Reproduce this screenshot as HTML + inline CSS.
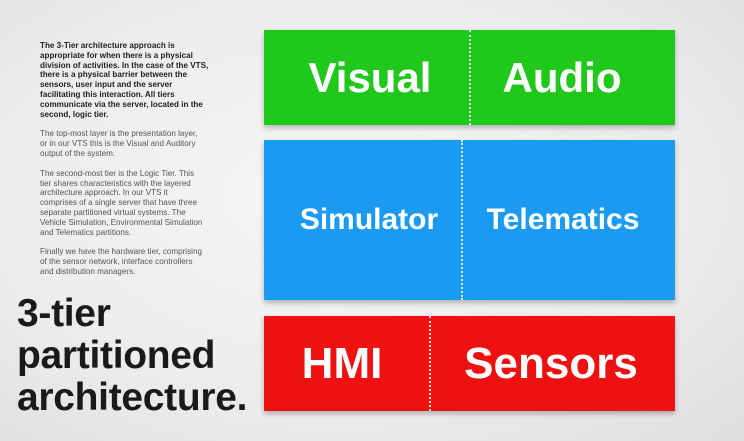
<!DOCTYPE html>
<html><head><style>
body{margin:0;width:744px;height:441px;overflow:hidden;background:radial-gradient(ellipse at 45% 45%,#f6f6f6 0%,#ececec 60%,#dedede 100%);font-family:"Liberation Sans",sans-serif;position:relative}
.t{position:absolute;left:40px;top:41px;font-size:8.1px;line-height:9.8px;color:#555;white-space:nowrap}
.t p{margin:0 0 10px}
.t p:first-child{color:#222;font-weight:bold}
.big{position:absolute;left:17px;top:293px;font-size:39px;font-weight:bold;line-height:42px;color:#1a1a1a;letter-spacing:-0.3px}
.box{position:absolute;left:264px;width:411px;color:#fff;font-weight:bold;box-shadow:0 3px 5px rgba(0,0,0,.25)}
.box span{position:absolute;top:50%;transform:translate(-50%,-50%);white-space:nowrap}
.div{position:absolute;top:0;bottom:0;border-left:2px dotted rgba(255,255,255,.85)}
</style></head><body>
<div class="t">
<p>The 3-Tier architecture approach is<br>appropriate for when there is a physical<br>division of activities. In the case of the VTS,<br>there is a physical barrier between the<br>sensors, user input and the server<br>facilitating this interaction. All tiers<br>communicate via the server, located in the<br>second, logic tier.</p>
<p>The top-most layer is the presentation layer,<br>or in our VTS this is the Visual and Auditory<br>output of the system.</p>
<p>The second-most tier is the Logic Tier. This<br>tier shares characteristics with the layered<br>architecture approach. In our VTS it<br>comprises of a single server that have three<br>separate partitioned virtual systems. The<br>Vehicle Simulation, Environmental Simulation<br>and Telematics partitions.</p>
<p>Finally we have the hardware tier, comprising<br>of the sensor network, interface controllers<br>and distribution managers.</p>
</div>
<div class="big">3-tier<br>partitioned<br>architecture.</div>
<div class="box" style="top:30px;height:95px;background:#1fc81b;font-size:42px">
<div class="div" style="left:205px"></div>
<span style="left:106px">Visual</span><span style="left:298px">Audio</span></div>
<div class="box" style="top:140px;height:160px;background:#1a9af0;font-size:30px">
<div class="div" style="left:197px"></div>
<span style="left:105px">Simulator</span><span style="left:299px">Telematics</span></div>
<div class="box" style="top:316px;height:95px;background:#ef1010;font-size:44px">
<div class="div" style="left:165px"></div>
<span style="left:78px">HMI</span><span style="left:287px">Sensors</span></div>
</body></html>
